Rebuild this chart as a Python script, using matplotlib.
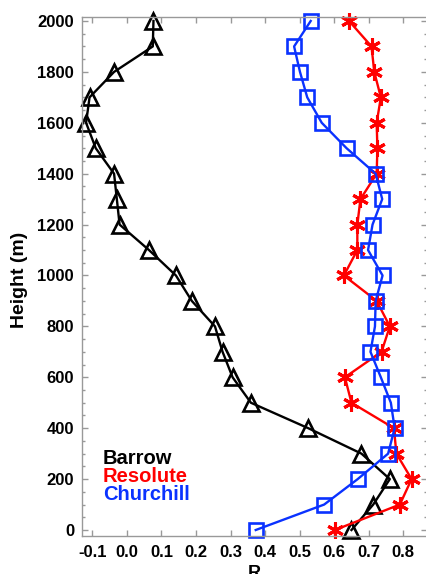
import matplotlib
matplotlib.use("Agg")
import matplotlib.pyplot as plt
from matplotlib.ticker import MultipleLocator

heights = list(range(0, 2001, 100))

barrow = [0.650, 0.713, 0.761, 0.679, 0.525, 0.359, 0.306, 0.277, 0.255, 0.188,
          0.142, 0.064, -0.021, -0.029, -0.037, -0.090, -0.118, -0.108, -0.037, 0.075, 0.077]
resolute = [0.602, 0.790, 0.824, 0.780, 0.773, 0.650, 0.631, 0.737, 0.761, 0.723,
            0.628, 0.667, 0.667, 0.676, 0.723, 0.725, 0.723, 0.735, 0.716, 0.708, 0.643]
churchill = [0.373, 0.571, 0.668, 0.756, 0.775, 0.764, 0.735, 0.705, 0.718, 0.720,
             0.740, 0.698, 0.711, 0.739, 0.720, 0.636, 0.564, 0.522, 0.501, 0.484, 0.532]

names = ["Barrow", "Resolute", "Churchill"]
colors = ["black", "#ff0000", "#0a32ff"]

plt.rcParams['font.family'] = ['Liberation Sans', 'DejaVu Sans']
plt.rcParams['font.weight'] = 'bold'

W, H = 426, 574
fig = plt.figure(figsize=(W / 100, H / 100), dpi=100)
left, right, top, bottom = 81.7, 427.0, 17.3, 535.7
ax = fig.add_axes([left / W, 1 - bottom / H, (right - left) / W, (bottom - top) / H])

ax.plot(barrow, heights, color=colors[0], lw=1.7, marker='^', ms=11,
        mfc='none', mec=colors[0], mew=1.9, clip_on=False)
ax.plot(resolute, heights, color=colors[1], lw=1.7, marker=(6, 2, 0), ms=12,
        mec=colors[1], mew=2.2, clip_on=False)
ax.plot(churchill, heights, color=colors[2], lw=1.7, marker='s', ms=9.5,
        mfc='none', mec=colors[2], mew=1.9, clip_on=False)

ax.set_xlim(-0.1307, 0.8686)
ax.set_ylim(-22.4, 2014.5)
ax.yaxis.set_major_locator(MultipleLocator(200))
ax.yaxis.set_minor_locator(MultipleLocator(50))
ax.set_xticks([round(-0.1 + 0.1 * i, 1) for i in range(10)])
ax.set_xticklabels([f"{-0.1 + 0.1 * i:.1f}" for i in range(10)])

for s in ax.spines.values():
    s.set_color('#999999')
    s.set_linewidth(1.0)
ax.tick_params(which='both', direction='in', top=True, right=True, color='#999999',
               labelsize=12, width=1.0)
ax.tick_params(which='major', length=4.5)
ax.tick_params(which='minor', length=2.5)
ax.tick_params(axis='x', which='major', pad=6.5)
ax.tick_params(axis='y', which='major', pad=5.5)
for lab in ax.get_xticklabels() + ax.get_yticklabels():
    lab.set_fontweight('bold')

fig.text(19.7 / W, 1 - 280 / H, "Height (m)", rotation=90, ha='center', va='center',
         fontsize=14, fontweight='bold')
fig.text(254 / W, 1 - 578 / H, "R", ha='center', va='baseline',
         fontsize=13, fontweight='bold')

baselines = [464, 482, 500]
for name, c, b in zip(names, colors, baselines):
    fig.text(103 / W, 1 - b / H, name, color=c, ha='left', va='baseline',
             fontsize=14.5, fontweight='bold')

fig.savefig("out.png", dpi=100)
